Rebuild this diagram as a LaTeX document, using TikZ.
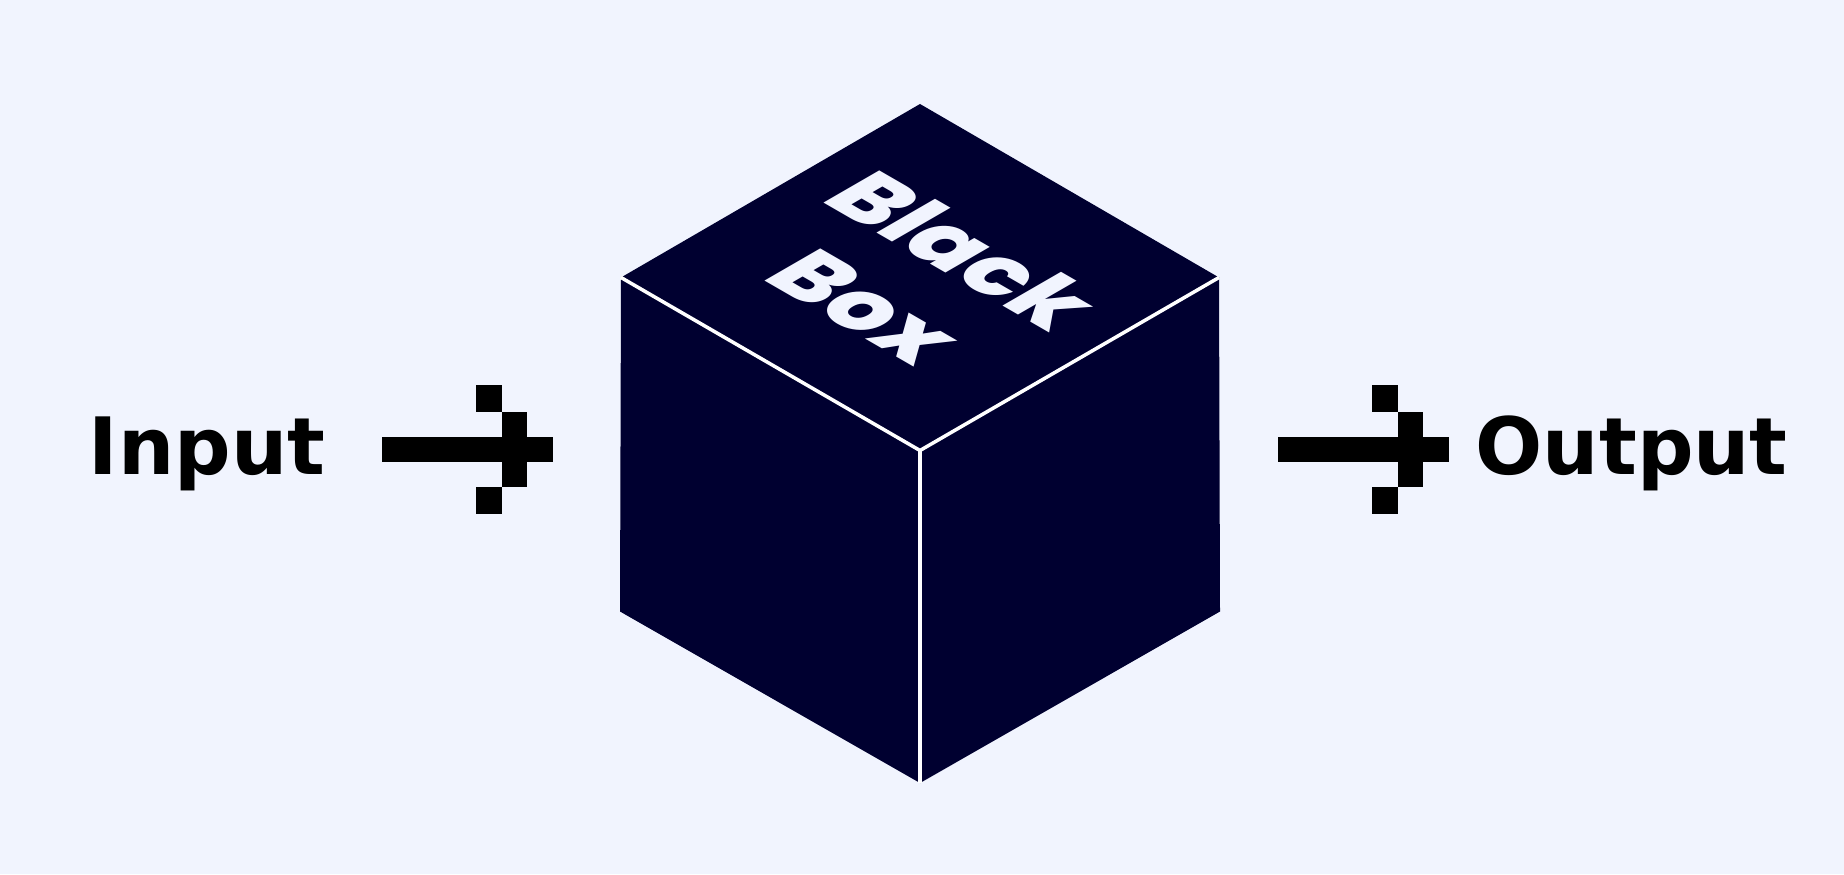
\documentclass[tikz,border=0pt]{standalone}
\usepackage{fontspec}
\usepackage{tikz}
\newfontfamily\boxfont{Poppins}[UprightFont={* ExtraBold}]
\newfontfamily\pixfont{DejaVu Sans}
\definecolor{PaleBlue}{HTML}{F1F4FE}
\definecolor{DeepNavy}{HTML}{000030}

\begin{document}
\begin{tikzpicture}[
      face/.style={fill=DeepNavy},
      ridge/.style={white, line width=1pt},
      iolabel/.style={font=\pixfont\bfseries\fontsize{22.5}{27}\selectfont, inner sep=0pt, anchor=base west},
      pixarrow/.pic={
        \fill (0,-0.125) rectangle (1.71,0.125);
        \fill (0.94,0.375) rectangle (1.20,0.645);
        \fill (1.20,0.125) rectangle (1.45,0.375);
        \fill (1.20,-0.125) rectangle (1.45,-0.375);
        \fill (0.94,-0.375) rectangle (1.20,-0.645);
      }
  ]
    \fill[PaleBlue] (0,0) rectangle (18.44,8.74);
    \useasboundingbox (0,0) rectangle (18.44,8.74);
    % cube corners
    \coordinate (T) at (9.20,7.70);
    \coordinate (LT) at (6.21,5.965);
    \coordinate (RT) at (12.19,5.965);
    \coordinate (C) at (9.20,4.235);
    \coordinate (LB) at (6.20,2.625);
    \coordinate (RB) at (12.20,2.625);
    \coordinate (B) at (9.20,0.91);
    \fill[face] (T) -- (RT) -- (C) -- (LT) -- cycle;
    \fill[face] (LT) -- (C) -- (B) -- (LB) -- cycle;
    \fill[face] (C) -- (RT) -- (RB) -- (B) -- cycle;
    \draw[ridge] (LT) -- (C) -- (RT);
    \draw[ridge] (C) -- (B);
    % lettering on the top face
    \begin{scope}[shift={(9.15,5.96)}, cm={0.866,-0.5,0.866,0.5,(0,0)}]
      \node[transform shape, text=PaleBlue, align=center,
            font=\boxfont\fontsize{26}{32}\selectfont] (title) at (0,0) {Black\\Box};
    \end{scope}
    \node[iolabel] (input) at (0.88,3.99) {Input};
    \node[iolabel] (output) at (14.75,3.99) {Output};
    \coordinate (inarrow) at (3.82,4.245);
    \coordinate (outarrow) at (12.78,4.245);
    \pic at (inarrow) {pixarrow};
    \pic at (outarrow) {pixarrow};
  \end{tikzpicture}
\end{document}
